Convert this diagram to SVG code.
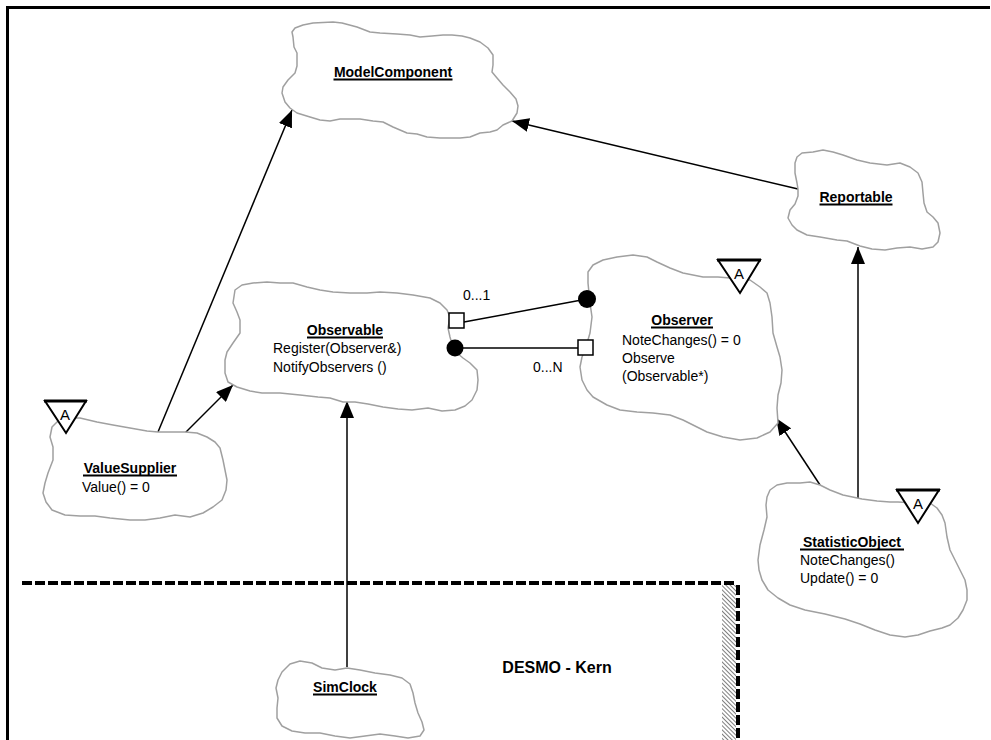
<svg xmlns="http://www.w3.org/2000/svg" width="991" height="740" viewBox="0 0 991 740">
  <style>
    .cloud { fill: #fff; stroke: #a0a0a0; stroke-width: 1.5; stroke-linejoin: round; }
    .title { font-family: "Liberation Sans", Arial, sans-serif; font-size: 14px; font-weight: bold; fill: #000; }
    .uline { stroke: #000; stroke-width: 1.8; }
    .op { font-family: "Liberation Sans", Arial, sans-serif; font-size: 14px; fill: #000; }
    .edge { stroke: #000; stroke-width: 1.5; fill: none; }
    .abs { fill: #fff; stroke: #000; stroke-width: 2; stroke-linejoin: miter; }
    .abs-top { stroke: #000; stroke-width: 3; }
    .absA { font-family: "Liberation Sans", Arial, sans-serif; font-size: 15px; text-anchor: middle; fill: #000; }
  </style>
  <defs>
    <marker id="arrow" markerUnits="userSpaceOnUse" markerWidth="18" markerHeight="14" refX="17" refY="7" orient="auto">
      <path d="M0,0 L17,7 L0,14 Z" fill="#000"/>
    </marker>
    <pattern id="hatch" patternUnits="userSpaceOnUse" width="3" height="3" patternTransform="rotate(-45)">
      <rect width="3" height="3" fill="#fff"/>
      <line x1="0" y1="0" x2="0" y2="3" stroke="#000" stroke-width="1"/>
    </pattern>
  </defs>

  <rect width="991" height="740" fill="#fff"/>

  <!-- outer frame -->
  <path d="M7.5,740 L7.5,7.5 L990,7.5" fill="none" stroke="#000" stroke-width="3"/>

  <!-- package boundary of the kernel -->
  <rect x="722" y="585" width="14" height="155" fill="url(#hatch)"/>
  <path d="M22,583 L734,583" fill="none" stroke="#000" stroke-width="4" stroke-dasharray="10 3"/>
  <path d="M738,585 L738,740" fill="none" stroke="#000" stroke-width="4" stroke-dasharray="10 3"/>

  <!-- connectors -->
  <g id="connectors">
    <line class="edge" x1="158" y1="432" x2="292" y2="110" marker-end="url(#arrow)"/>
    <line class="edge" x1="185" y1="433" x2="233" y2="385" marker-end="url(#arrow)"/>
    <line class="edge" x1="798" y1="189" x2="512" y2="121" marker-end="url(#arrow)"/>
    <line class="edge" x1="347" y1="667" x2="347" y2="401" marker-end="url(#arrow)"/>
    <line class="edge" x1="820" y1="485" x2="776" y2="418" marker-end="url(#arrow)"/>
    <line class="edge" x1="858" y1="499" x2="858" y2="247" marker-end="url(#arrow)"/>
  </g>

  <g id="ModelComponent">
    <path class="cloud" d="M292,32 L295,28 L303,25 L313,23 L333,22 L342,23 L357,27 L370,32 L380,33 L397,34 L410,35 L420,37 L432,36 L443,35 L452,35 L462,36 L470,38 L480,42 L488,48 L493,55 L493,65 L492,72 L497,78 L503,85 L510,92 L516,99 L518,106 L517,113 L512,121 L503,125 L497,130 L490,132 L480,133 L470,137 L460,138 L440,138 L427,137 L417,134 L407,133 L393,127 L383,122 L373,121 L360,119 L340,119 L330,121 L320,120 L310,117 L297,113 L290,108 L285,102 L282,93 L283,87 L288,80 L295,73 L297,66 L297,53 L294,47 L293,37 Z"/>
    <text class="title" x="393" y="77" text-anchor="middle">ModelComponent</text>
    <line class="uline" x1="333.5" y1="79.5" x2="452.5" y2="79.5"/>
  </g>

  <g id="Reportable">
    <path class="cloud" d="M797,157 L802,153 L813,152 L823,150 L833,152 L843,155 L857,160 L870,163 L887,165 L900,163 L910,167 L918,173 L922,182 L923,193 L924,203 L927,212 L933,217 L938,223 L940,233 L938,242 L933,247 L922,249 L910,247 L897,248 L885,250 L872,249 L860,246 L847,241 L837,240 L820,237 L807,235 L797,230 L792,225 L788,218 L790,210 L795,204 L798,196 L798,189 L797,183 L795,173 L795,163 Z"/>
    <text class="title" x="856" y="202" text-anchor="middle">Reportable</text>
    <line class="uline" x1="819.5" y1="204.5" x2="892.5" y2="204.5"/>
  </g>

  <g id="Observable">
    <path class="cloud" d="M233,303 L235,290 L242,285 L253,283 L267,282 L280,283 L293,283 L307,287 L320,290 L333,292 L350,293 L367,293 L380,292 L397,293 L413,295 L430,298 L440,303 L447,310 L450,317 L448,328 L450,337 L452,344 L457,353 L463,358 L470,363 L477,370 L478,380 L477,390 L472,400 L465,406 L455,410 L442,411 L428,408 L412,410 L398,409 L383,407 L368,404 L355,402 L343,402 L330,398 L318,397 L300,395 L280,393 L262,393 L250,391 L237,387 L228,382 L225,373 L225,360 L227,352 L233,343 L240,333 L240,320 L237,312 Z"/>
    <text class="title" x="345" y="335" text-anchor="middle">Observable</text>
    <line class="uline" x1="307" y1="337.5" x2="383" y2="337.5"/>
    <text class="op" x="273" y="353">Register(Observer&amp;)</text>
    <text class="op" x="273" y="372">NotifyObservers ()</text>
  </g>

  <g id="Observer">
    <path class="cloud" d="M588,283 L588,272 L593,265 L603,260 L617,257 L633,255 L647,257 L657,262 L670,268 L683,273 L703,277 L718,277 L730,278 L750,280 L760,287 L767,293 L770,303 L772,317 L773,333 L777,347 L780,357 L782,370 L781,383 L778,395 L777,408 L778,423 L770,432 L757,438 L740,440 L723,437 L707,432 L697,427 L683,420 L670,415 L653,413 L637,412 L620,410 L607,405 L593,397 L587,390 L582,380 L580,367 L582,357 L585,350 L590,333 L592,317 L590,303 Z"/>
    <text class="title" x="682" y="325" text-anchor="middle">Observer</text>
    <line class="uline" x1="651" y1="327.5" x2="713" y2="327.5"/>
    <text class="op" x="622" y="345">NoteChanges() = 0</text>
    <text class="op" x="622" y="363">Observe</text>
    <text class="op" x="622" y="381">(Observable*)</text>
    <path class="abs" d="M718,260 L760,260 L740,293 Z"/>
    <line class="abs-top" x1="717" y1="260" x2="761" y2="260"/>
    <text class="absA" x="739" y="279">A</text>
  </g>

  <g id="ValueSupplier">
    <path class="cloud" d="M52,427 L57,422 L67,418 L80,418 L97,422 L113,425 L130,428 L147,431 L158,432 L173,432 L185,432 L197,433 L207,437 L215,442 L220,448 L223,460 L225,470 L227,480 L226,490 L222,500 L213,507 L203,513 L190,517 L175,515 L160,518 L145,520 L130,520 L110,518 L95,516 L80,516 L65,515 L52,510 L46,502 L43,493 L45,483 L48,473 L53,460 L53,447 L50,437 Z"/>
    <text class="title" x="130" y="473" text-anchor="middle">ValueSupplier</text>
    <line class="uline" x1="83" y1="475.5" x2="177" y2="475.5"/>
    <text class="op" x="82" y="492">Value() = 0</text>
    <path class="abs" d="M45,401 L86,401 L66,433 Z"/>
    <line class="abs-top" x1="44" y1="401" x2="87" y2="401"/>
    <text class="absA" x="65" y="420">A</text>
  </g>

  <g id="StatisticObject">
    <path class="cloud" d="M767,497 L770,490 L777,485 L787,483 L800,483 L810,482 L820,485 L830,490 L843,495 L862,499 L877,501 L890,502 L898,502 L915,503 L930,503 L937,508 L942,515 L945,523 L947,537 L950,550 L955,560 L960,570 L965,580 L967,590 L967,600 L963,610 L958,618 L950,625 L942,628 L930,631 L918,635 L905,637 L890,635 L875,630 L860,624 L845,619 L825,614 L805,610 L790,605 L778,598 L768,590 L762,580 L759,570 L758,560 L760,545 L764,530 L767,517 L766,505 Z"/>
    <text class="title" x="852" y="547" text-anchor="middle">StatisticObject</text>
    <line class="uline" x1="800" y1="549.5" x2="904" y2="549.5"/>
    <text class="op" x="800" y="565">NoteChanges()</text>
    <text class="op" x="800" y="583">Update() = 0</text>
    <path class="abs" d="M897,490 L939,490 L918,523 Z"/>
    <line class="abs-top" x1="896" y1="490" x2="940" y2="490"/>
    <text class="absA" x="918" y="509">A</text>
  </g>

  <g id="SimClock">
    <path class="cloud" d="M282,672 L290,664 L300,661 L312,663 L322,668 L335,670 L347,668 L360,670 L375,673 L390,675 L402,678 L410,684 L413,693 L415,703 L418,713 L422,722 L424,730 L420,736 L408,738 L395,736 L380,734 L365,736 L350,738 L335,736 L320,733 L305,733 L292,731 L282,726 L277,718 L277,708 L278,698 L276,688 L278,680 Z"/>
    <text class="title" x="345" y="692" text-anchor="middle">SimClock</text>
    <line class="uline" x1="313" y1="694.5" x2="377" y2="694.5"/>
  </g>

  <!-- association ends between Observable and Observer -->
  <g id="associations">
    <line class="edge" x1="464" y1="322" x2="587" y2="299"/>
    <line class="edge" x1="455" y1="348" x2="578" y2="348"/>
    <rect x="449" y="313" width="15" height="15" fill="#fff" stroke="#000" stroke-width="1.5"/>
    <circle cx="587" cy="299" r="9" fill="#000"/>
    <circle cx="455" cy="348" r="8.5" fill="#000"/>
    <rect x="578" y="340" width="15" height="15" fill="#fff" stroke="#000" stroke-width="1.5"/>
    <text class="op" x="463" y="300">0...1</text>
    <text class="op" x="533" y="372">0...N</text>
  </g>

  <text x="557" y="673" text-anchor="middle" font-family="Liberation Sans, Arial, sans-serif" font-size="16" font-weight="bold">DESMO - Kern</text>
</svg>
